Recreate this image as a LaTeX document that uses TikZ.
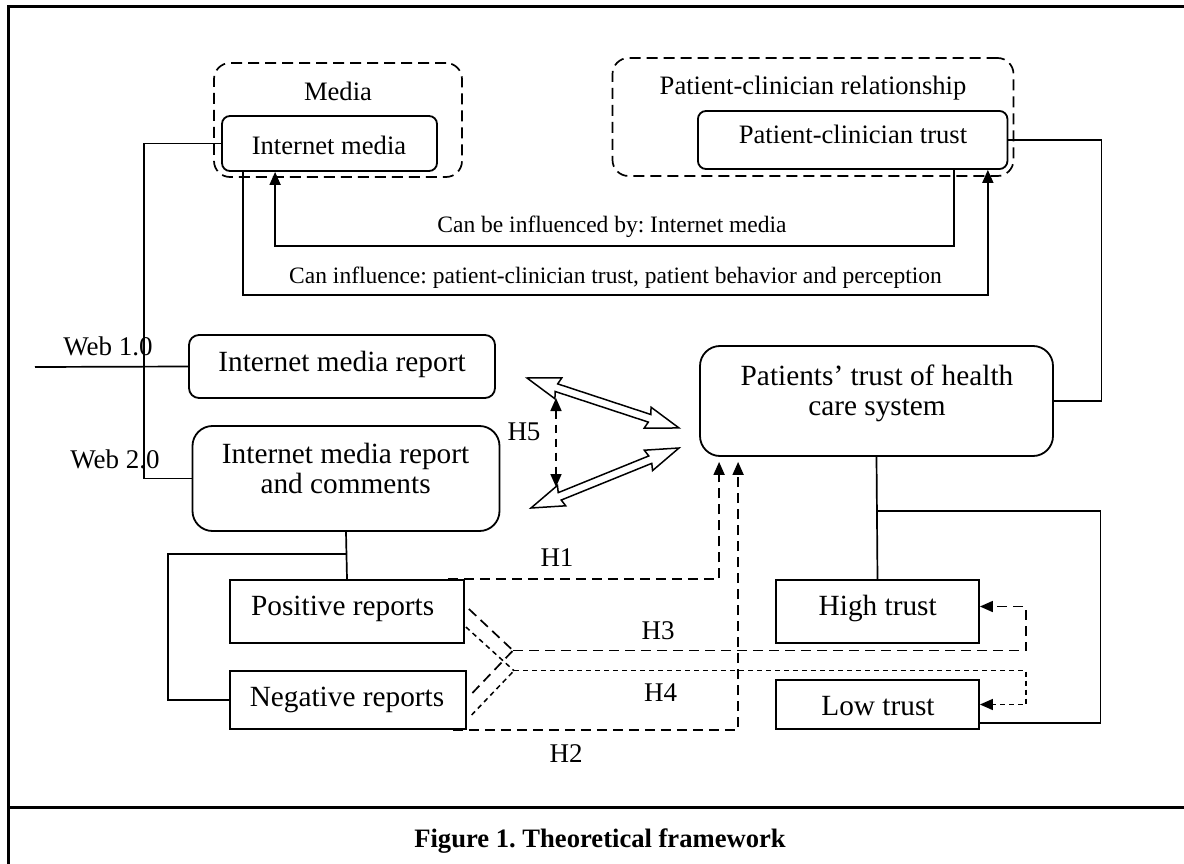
\documentclass[tikz,border=0pt]{standalone}
\usepackage{fontspec}
\setmainfont{Liberation Serif}
\usetikzlibrary{arrows.meta,calc}
\frenchspacing
\begin{document}
\begin{tikzpicture}[x=1pt,y=-1pt,
  rbox/.style={draw, line width=1.8pt, rounded corners=#1, inner sep=0pt},
  sbox/.style={draw, line width=1.8pt, inner sep=0pt},
  dbox/.style={draw, line width=1.7pt, rounded corners=16pt, inner sep=0pt, dash pattern=on 11pt off 6pt},
  conn/.style={line width=1.7pt},
  dashL/.style={line width=1.7pt, dash pattern=on 10pt off 6pt},
  dashS/.style={line width=1.5pt, dash pattern=on 5pt off 4pt},
  dashM/.style={line width=1.7pt, dash pattern=on 8pt off 6pt},
  tip/.style={-{Triangle[length=13pt,width=11pt]}},
  hollow/.style={line width=1.5pt, line join=miter, fill=white},
  bigT/.style={inner sep=0pt, anchor=base, font=\fontsize{29.3}{34}\selectfont},
  midT/.style={inner sep=0pt, anchor=base, font=\fontsize{26.6}{31}\selectfont},
  labT/.style={inner sep=0pt, anchor=base, font=\fontsize{23.5}{28}\selectfont},
  hT/.style={inner sep=0pt, anchor=base, font=\fontsize{27}{31}\selectfont},
  capT/.style={inner sep=0pt, anchor=base, font=\fontsize{26.6}{31}\selectfont\bfseries}
]
\useasboundingbox (0,0) rectangle (1184,864);
% frame
\draw[line width=3pt] (1184,7) -- (8,7) -- (8,864);
\draw[line width=3pt] (8,807) -- (1184,807);

% group boxes
\node[dbox, minimum width=248pt, minimum height=114pt] (media) at (338,120) {};
\node[midT] (mediaT) at (338,101) {Media};
\node[dbox, minimum width=401pt, minimum height=118pt] (pcr) at (813,117) {};
\node[midT] (pcrT) at (813,95) {Patient-clinician relationship};

% boxes
\node[rbox=8pt, minimum width=215pt, minimum height=55pt] (im) at (329.5,143.5) {};
\node[midT] (imT) at (329,155) {Internet media};
\node[rbox=8pt, minimum width=309.5pt, minimum height=58pt] (pct) at (852.7,140) {};
\node[midT] (pctT) at (853,144) {Patient-clinician trust};

\node[rbox=10pt, minimum width=306pt, minimum height=63pt] (imr) at (342,366.5) {};
\node[bigT] (imrT) at (342,371.7) {Internet media report};
\node[rbox=20pt, minimum width=307pt, minimum height=105pt] (imrc) at (346,478.5) {};
\node[bigT] (imrcT1) at (345.6,463) {Internet media report};
\node[bigT] (imrcT2) at (345.6,493) {and comments};

\node[rbox=20pt, minimum width=353pt, minimum height=110pt] (pthcs) at (876.5,401) {};
\node[bigT] (pthcsT1) at (877,385) {Patients’ trust of health};
\node[bigT] (pthcsT2) at (877,415.7) {care system};

\node[sbox, minimum width=234pt, minimum height=63pt] (pos) at (347,611.5) {};
\node[bigT] (posT) at (342.7,615) {Positive reports};
\node[sbox, minimum width=236pt, minimum height=58pt] (neg) at (348,700) {};
\node[bigT] (negT) at (347,706) {Negative reports};
\node[sbox, minimum width=203pt, minimum height=63pt] (high) at (877.5,611.5) {};
\node[bigT] (highT) at (877.7,615) {High trust};
\node[sbox, minimum width=203pt, minimum height=49pt] (low) at (877.5,704.5) {};
\node[bigT] (lowT) at (878,715) {Low trust};

% labels
\node[labT] (lab1) at (612,233) {Can be influenced by: Internet media};
\node[labT] (lab2) at (615.5,283) {Can influence: patient-clinician trust, patient behavior and perception};
\node[hT] (web1) at (108,355) {Web 1.0};
\node[hT] (web2) at (115,468) {Web 2.0};
\node[hT] (h5) at (524,440) {H5};
\node[hT] (h1) at (557,566.7) {H1};
\node[hT] (h3) at (658,639) {H3};
\node[hT] (h4) at (660.5,701.7) {H4};
\node[hT] (h2) at (566,762.7) {H2};
\node[capT] (cap) at (600,847) {Figure 1. Theoretical framework};

% solid connectors
\coordinate (w1end) at (35,367);
\draw[conn] (w1end) -- (imr.west);
\draw[conn] (im.west) -- ++(-77,0) |- (imrc.west);
\draw[conn,tip] ($(im.south west)+(22,0)$) -- ++(0,123) -| ($(pct.south east)+(-20.5,0)$);
\draw[conn,tip] ($(pct.south east)+(-54.5,0)$) -- ++(0,76) -| ($(im.south west)+(54,0)$);
\draw[conn] (pct.east) -- ++(93,0) |- (pthcs.east);
\draw[conn] (imrc.south) -- (pos.north);
\draw[conn] ($(imrc.south)+(0,22)$) -- ++(-178,0) |- (neg.west);
\draw[conn] (pthcs.south) -- (high.north);
\draw[conn] ($(pthcs.south)+(0,54)$) -- ++(224,0) |- ($(low.south east)+(0,-7)$);

% dashed hypotheses
\draw[dashL,tip] ($(pos.north east)+(-17,0)$) -| ($(pthcs.south west)+(20,5)$);
\draw[dashL,tip] ($(neg.south east)+(-14,0)$) -| ($(pthcs.south west)+(39,5)$);
\coordinate (m3) at (513,650.5);
\coordinate (m4) at (514,670.7);
\draw[dashL] ($(pos.east)+(4,-2.5)$) -- (m3);
\draw[dashL] ($(neg.east)+(5.5,-7)$) -- (m3);
\draw[dashL,tip] (m3) -- ++(513,0) |- ($(high.east)+(0,-5)$);
\draw[dashS] ($(pos.east)+(1,15.5)$) -- (m4);
\draw[dashS] ($(neg.east)+(4.7,15)$) -- (m4);
\draw[dashS,tip] (m4) -- ++(512,0) |- (low.east);

% hollow double arrows
\coordinate (u1) at (527,378);
\coordinate (l1) at (531,508);
\begin{scope}[shift={(u1)}, rotate=-18.2]
\draw[hollow] (0,0) -- (33,11) -- (31,4) -- (129,4) -- (127,11) -- (160,0) -- (127,-11) -- (129,-4) -- (31,-4) -- (33,-11) -- cycle;
\end{scope}
\begin{scope}[shift={(l1)}, rotate=22.07]
\draw[hollow] (0,0) -- (33,11) -- (31,4) -- (128.7,4) -- (126.7,11) -- (159.7,0) -- (126.7,-11) -- (128.7,-4) -- (31,-4) -- (33,-11) -- cycle;
\end{scope}
\coordinate (h5a) at (556,398);
\coordinate (h5b) at (556,487);
\draw[dashM,{Triangle[length=13pt,width=11pt]}-{Triangle[length=13pt,width=11pt]}] (h5a) -- (h5b);
\end{tikzpicture}
\end{document}
